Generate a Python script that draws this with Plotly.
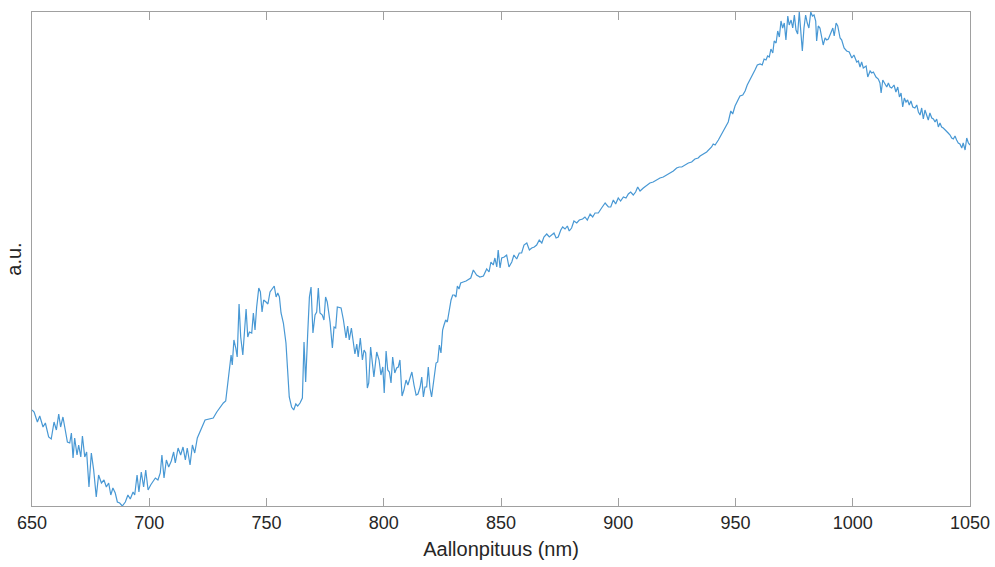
import plotly.graph_objects as go

# Measured spectrum: wavelength (nm) and intensity (arbitrary units)
wavelength_nm = [
    650.0, 650.9, 652.3, 653.3, 654.7, 655.7, 657.1, 658.2, 659.4, 660.4, 661.4, 662.2, 663.2, 664.2,
    665.1, 666.1, 666.8, 667.5, 668.2, 669.2, 669.9, 670.8, 671.5, 672.5, 673.3, 674.3, 675.3, 676.3,
    677.4, 678.4, 679.6, 680.7, 681.7, 682.7, 683.6, 684.5, 685.5, 686.4, 687.4, 688.5, 689.8, 690.9,
    691.9, 693.1, 693.8, 694.8, 695.6, 696.6, 697.6, 698.5, 699.5, 700.6, 701.6, 702.6, 703.7, 704.7,
    705.4, 706.3, 707.3, 708.3, 709.4, 710.4, 711.1, 712.3, 713.4, 714.4, 715.4, 716.2, 717.4, 718.4,
    719.4, 720.5, 723.8, 727.3, 728.8, 730.2, 731.6, 732.6, 733.5, 734.4, 734.9, 735.4, 736.1, 736.9,
    737.5, 738.3, 739.0, 739.9, 740.5, 741.3, 742.0, 742.7, 743.7, 744.4, 745.1, 745.8, 746.7, 747.4,
    748.1, 748.8, 749.8, 750.6, 751.5, 752.5, 753.3, 754.1, 754.8, 755.5, 756.2, 757.2, 758.3, 759.0,
    759.7, 760.7, 761.6, 762.5, 763.3, 764.3, 765.3, 766.0, 766.7, 767.6, 768.3, 769.0, 769.8, 770.7,
    771.4, 772.1, 772.8, 773.8, 774.5, 775.2, 775.9, 777.1, 778.1, 778.8, 779.5, 780.2, 781.8, 782.8,
    783.9, 784.6, 785.3, 786.2, 787.0, 787.7, 788.5, 789.1, 790.0, 790.9, 791.6, 792.3, 793.0, 793.6,
    794.4, 795.1, 795.8, 797.0, 798.0, 798.8, 799.6, 800.2, 801.0, 801.7, 802.4, 803.1, 803.8, 804.7,
    805.5, 806.2, 806.9, 807.8, 808.6, 809.5, 810.3, 811.2, 812.0, 812.9, 813.8, 814.6, 815.5, 816.2,
    816.9, 817.6, 818.3, 819.0, 819.7, 820.4, 821.4, 822.3, 823.0, 823.7, 824.4, 825.1, 825.7, 826.4,
    827.1, 828.0, 828.7, 829.4, 830.1, 830.8, 831.4, 832.1, 832.8, 833.9, 835.1, 837.1, 838.2, 839.6,
    841.0, 842.5, 843.9, 844.9, 845.7, 846.7, 847.4, 848.2, 848.8, 849.6, 850.3, 851.4, 852.4, 853.4,
    854.6, 855.5, 856.7, 857.8, 858.8, 859.8, 861.0, 862.1, 863.1, 864.2, 865.2, 866.3, 867.4, 868.3,
    869.5, 870.6, 871.6, 872.6, 873.5, 874.4, 875.5, 876.3, 877.3, 878.3, 879.1, 880.1, 881.1, 882.3,
    883.4, 884.8, 885.8, 886.8, 888.0, 889.1, 890.1, 891.5, 892.9, 894.4, 895.8, 896.8, 897.9, 898.9,
    900.0, 901.0, 902.2, 903.3, 904.3, 905.3, 906.4, 907.4, 908.3, 909.3, 910.7, 912.1, 913.5, 914.9,
    916.4, 917.8, 919.2, 920.7, 922.1, 923.5, 924.9, 926.0, 927.1, 928.5, 929.9, 931.3, 932.7, 934.1,
    934.9, 937.7, 939.8, 940.5, 941.3, 942.7, 944.1, 945.5, 946.9, 948.0, 948.8, 949.8, 950.8, 951.9,
    953.1, 954.1, 955.0, 956.2, 957.2, 958.3, 959.3, 960.5, 961.4, 962.2, 963.0, 963.7, 964.4, 965.1,
    965.9, 966.5, 967.3, 968.0, 968.7, 969.4, 970.1, 970.8, 971.5, 972.3, 972.9, 973.7, 974.4, 975.1,
    975.8, 976.5, 977.2, 977.9, 978.5, 979.2, 979.9, 980.6, 981.3, 982.1, 982.8, 983.5, 984.2, 984.6,
    985.3, 986.0, 986.8, 987.4, 988.2, 988.9, 989.6, 990.6, 991.5, 992.1, 992.9, 993.6, 994.3, 994.6,
    995.3, 996.3, 997.4, 998.5, 999.6, 1000.5, 1001.7, 1002.4, 1003.1, 1003.8, 1004.5, 1005.7, 1006.4,
    1007.4, 1008.1, 1008.8, 1009.9, 1010.9, 1011.6, 1012.1, 1012.8, 1013.8, 1014.5, 1015.2, 1015.9,
    1016.6, 1017.6, 1018.4, 1019.2, 1019.9, 1020.6, 1021.3, 1022.0, 1022.7, 1023.4, 1024.1, 1024.8,
    1025.6, 1026.5, 1027.3, 1028.0, 1028.7, 1029.4, 1030.1, 1030.8, 1031.5, 1032.2, 1032.9, 1033.7,
    1034.4, 1035.1, 1035.8, 1036.5, 1037.2, 1037.9, 1038.6, 1039.3, 1040.1, 1040.7, 1041.5, 1042.2,
    1042.9, 1043.6, 1044.3, 1045.0, 1045.7, 1046.5, 1047.1, 1047.9, 1048.6, 1049.3, 1050.0,
]

intensity_au = [
    96, 94, 84, 90, 79, 83, 69, 67, 84, 76, 92, 79, 89, 74,
    64, 63, 73, 48, 68, 51, 61, 49, 70, 49, 54, 19, 53, 36,
    9, 31, 23, 26, 19, 23, 11, 18, 13, 4, 3, 0, 4, 11,
    7, 14, 11, 31, 14, 34, 19, 36, 16, 21, 24, 28, 26, 33,
    51, 28, 46, 39, 45, 54, 43, 58, 51, 59, 46, 58, 41, 61,
    53, 68, 86, 88, 94, 99, 103, 105, 123, 143, 151, 141, 166, 158,
    149, 202, 169, 151, 176, 197, 169, 174, 173, 193, 176, 199, 218, 214,
    194, 206, 204, 202, 214, 218, 220, 209, 213, 209, 193, 183, 163, 136,
    109, 99, 96, 102, 100, 103, 108, 164, 124, 174, 209, 219, 173, 191,
    194, 218, 193, 191, 186, 209, 204, 184, 158, 179, 178, 199, 198, 186,
    168, 180, 166, 178, 161, 152, 162, 149, 168, 146, 156, 153, 118, 123,
    159, 143, 129, 154, 146, 131, 139, 113, 155, 136, 134, 123, 149, 133,
    138, 139, 146, 110, 116, 126, 121, 128, 134, 121, 111, 112, 119, 129,
    109, 119, 119, 139, 118, 109, 126, 143, 144, 161, 153, 176, 181, 186,
    184, 198, 206, 211, 211, 209, 220, 217, 223, 224, 225, 228, 236, 231,
    229, 230, 237, 234, 244, 241, 248, 239, 256, 238, 248, 249, 251, 239,
    244, 251, 247, 253, 253, 261, 263, 256, 258, 259, 261, 266, 263, 269,
    272, 269, 271, 273, 268, 269, 276, 279, 277, 280, 275, 278, 285, 283,
    286, 287, 289, 286, 292, 289, 293, 293, 298, 303, 299, 299, 306, 302,
    308, 305, 309, 308, 312, 314, 311, 314, 319, 315, 318, 321, 323, 324,
    326, 328, 329, 331, 333, 335, 338, 339, 339, 341, 343, 344, 347, 348,
    350, 354, 359, 362, 361, 366, 372, 379, 384, 395, 392, 400, 405, 410,
    411, 415, 421, 426, 431, 436, 441, 442, 441, 447, 446, 450, 449, 457,
    453, 465, 463, 475, 469, 485, 478, 483, 466, 490, 481, 486, 478, 491,
    476, 472, 494, 475, 455, 478, 491, 483, 478, 494, 490, 491, 485, 465,
    480, 478, 470, 461, 468, 466, 467, 473, 478, 470, 483, 480, 471, 468,
    466, 458, 455, 454, 448, 451, 444, 445, 439, 444, 438, 440, 429,
    435, 433, 434, 429, 427, 423, 413, 426, 421, 419, 423, 419,
    418, 421, 414, 419, 409, 413, 399, 408, 404, 406, 401, 405,
    399, 398, 401, 394, 391, 398, 387, 396, 391, 386, 393, 388,
    387, 384, 387, 379, 383, 379, 378, 376, 374, 373, 371, 368,
    367, 370, 366, 363, 362, 358, 363, 356, 368, 363, 361,
]

x_ticks = [650, 700, 750, 800, 850, 900, 950, 1000, 1050]

axis_grey = "rgb(160,160,160)"
text_grey = "rgb(38,38,38)"
font_family = "Liberation Sans, Arial, sans-serif"

fig = go.Figure()
fig.add_trace(
    go.Scatter(
        x=wavelength_nm,
        y=intensity_au,
        mode="lines",
        line=dict(color="rgb(72,152,212)", width=1.2),
        showlegend=False,
        hoverinfo="x+y",
    )
)

fig.update_layout(
    width=995,
    height=567,
    margin=dict(l=32, r=25, t=12, b=61),
    paper_bgcolor="white",
    plot_bgcolor="white",
    font=dict(family=font_family, color=text_grey, size=18),
)

fig.update_xaxes(
    range=[650, 1050],
    tickvals=x_ticks,
    ticktext=[str(t) for t in x_ticks],
    ticks="inside",
    ticklen=8,
    tickwidth=1,
    tickcolor=axis_grey,
    showline=True,
    linecolor=axis_grey,
    linewidth=1,
    mirror="ticks",
    showgrid=False,
    zeroline=False,
    automargin=False,
    tickfont=dict(size=18, color=text_grey),
    title=dict(text="Aallonpituus (nm)", font=dict(size=20, color=text_grey), standoff=10),
)

fig.update_yaxes(
    range=[min(intensity_au), max(intensity_au)],
    showticklabels=False,
    ticks="",
    showline=True,
    linecolor=axis_grey,
    linewidth=1,
    mirror=True,
    showgrid=False,
    zeroline=False,
    automargin=False,
    title=dict(text="a.u.", font=dict(size=20, color=text_grey), standoff=4),
)

fig.write_html("out.html")
